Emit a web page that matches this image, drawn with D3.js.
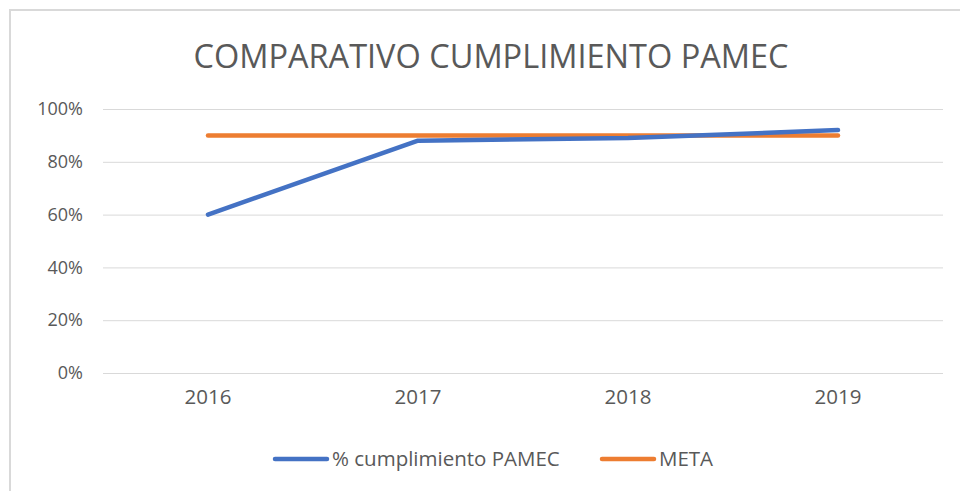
<!DOCTYPE html>
<meta charset="utf-8">
<script src="https://d3js.org/d3.v7.min.js"></script>
<style>
  body { margin: 0; background: #fff; }
  text { font-family: "Open Sans", sans-serif; fill: #595959; }
</style>
<div id="chart"></div>
<script>

// Datos
var anios = ["2016", "2017", "2018", "2019"];
var cumplimiento = [0.60, 0.88, 0.89, 0.92];
var meta = [0.90, 0.90, 0.90, 0.90];
var yTicks = [0, 0.2, 0.4, 0.6, 0.8, 1.0];
var serieNombres = ["% cumplimiento PAMEC", "META"];
var colores = ["#4472C4", "#ED7D31"];

var W = 960, H = 491;
var margin = {top: 109, right: 17, bottom: 118, left: 103};
var width = W - margin.left - margin.right,
    height = H - margin.top - margin.bottom;

var svg = d3.select("#chart")
  .append("svg")
    .attr("width", W)
    .attr("height", H);

// Borde del área del gráfico
svg.append("rect")
  .attr("x", 10).attr("y", 10)
  .attr("width", W + 20).attr("height", H + 20)
  .attr("fill", "none")
  .attr("stroke", "#d9d9d9")
  .attr("stroke-width", 2);

// Título
svg.append("text")
  .attr("x", 491)
  .attr("y", 68)
  .attr("text-anchor", "middle")
  .style("font-size", "32.5px")
  .text("COMPARATIVO CUMPLIMIENTO PAMEC");

var g = svg.append("g")
  .attr("transform", "translate(" + margin.left + "," + margin.top + ")");

var x = d3.scaleBand().domain(anios).range([0, width]).padding(0);
var y = d3.scaleLinear().domain([0, 1]).range([height, 0]);

// Líneas de cuadrícula
g.append("g")
  .call(d3.axisLeft(y).tickValues(yTicks).tickSize(-width).tickFormat(d3.format(".0%")))
  .call(function(a) {
    a.select(".domain").remove();
    a.selectAll(".tick line").attr("stroke", "#d9d9d9").attr("stroke-width", 1);
    a.selectAll(".tick text")
      .attr("x", -20)
      .style("font-size", "18px")
      .style("font-family", "'Open Sans', sans-serif")
      .attr("fill", "#595959");
  });

// Eje X
g.append("g")
  .attr("transform", "translate(0," + height + ")")
  .call(d3.axisBottom(x).tickSize(0))
  .call(function(a) {
    a.select(".domain").remove();
    a.selectAll(".tick text")
      .attr("dy", "1.35em")
      .style("font-size", "20.5px")
      .style("font-family", "'Open Sans', sans-serif")
      .attr("fill", "#595959");
  });

var cx = function(d, i) { return x(anios[i]) + x.bandwidth() / 2; };
var line = d3.line()
  .x(cx)
  .y(function(d) { return y(d); });

[meta, cumplimiento].forEach(function(serie) {
  var idx = serie === cumplimiento ? 0 : 1;
  g.append("path")
    .datum(serie)
    .attr("fill", "none")
    .attr("stroke", colores[idx])
    .attr("stroke-width", 4.5)
    .attr("stroke-linecap", "round")
    .attr("stroke-linejoin", "round")
    .attr("d", line);
});

// Leyenda
var leyenda = svg.append("g").attr("transform", "translate(0,459)");
var posLeyenda = [275, 602];
serieNombres.forEach(function(nombre, i) {
  var item = leyenda.append("g").attr("transform", "translate(" + posLeyenda[i] + ",0)");
  item.append("line")
    .attr("x1", 0).attr("x2", 52)
    .attr("y1", 0).attr("y2", 0)
    .attr("stroke", colores[i])
    .attr("stroke-width", 4.5)
    .attr("stroke-linecap", "round");
  item.append("text")
    .attr("x", 57)
    .attr("y", 0)
    .attr("dy", "0.35em")
    .style("font-size", "20.5px")
    .text(nombre);
});

</script>
